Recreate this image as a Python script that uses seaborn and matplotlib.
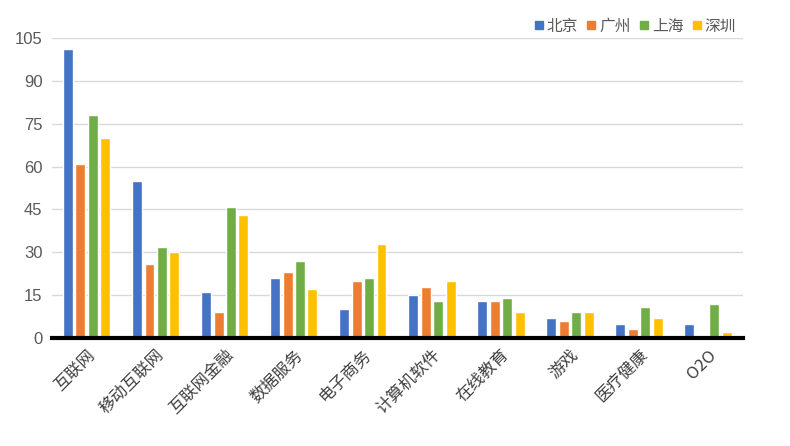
import pandas as pd
import matplotlib
matplotlib.use("Agg")
import matplotlib.pyplot as plt
from matplotlib.lines import Line2D
import seaborn as sns

categories = ["互联网", "移动互联网", "互联网金融", "数据服务", "电子商务",
              "计算机软件", "在线教育", "游戏", "医疗健康", "O2O"]
cities = ["北京", "广州", "上海", "深圳"]
beijing = [101, 55, 16, 21, 10, 15, 13, 7, 5, 5]
guangzhou = [61, 26, 9, 23, 20, 18, 13, 6, 3, 0.7]
shanghai = [78, 32, 46, 27, 21, 13, 14, 9, 11, 12]
shenzhen = [70, 30, 43, 17, 33, 20, 9, 9, 7, 2]
colors = ["#4472C4", "#ED7D31", "#70AD47", "#FFC000"]
y_ticks = [0, 15, 30, 45, 60, 75, 90, 105]

rows = []
for city, vals in zip(cities, [beijing, guangzhou, shanghai, shenzhen]):
    for cat, v in zip(categories, vals):
        rows.append({"category": cat, "city": city, "value": v})
df = pd.DataFrame(rows)

sns.set_theme(style="white")
plt.rcParams["font.family"] = ["Noto Sans CJK SC", "DejaVu Sans"]

fig = plt.figure(figsize=(7.9, 4.46), dpi=100)
ax = fig.add_axes([0.066, 0.242, 0.874, 0.673])

sns.barplot(data=df, x="category", y="value", hue="city", order=categories,
            hue_order=cities, palette=colors, width=0.72, gap=0.2,
            saturation=1, ax=ax, legend=False)

ax.set_ylim(0, 105)
ax.set_xlim(-0.5, len(categories) - 0.5)
ax.set_yticks(y_ticks)
ax.set_yticklabels([str(t) for t in y_ticks], color="#595959", fontsize=12,
                   family="Liberation Sans")
ax.yaxis.grid(True, color="#D9D9D9", linewidth=1)
ax.set_axisbelow(True)
ax.tick_params(axis="y", length=0, pad=7)
ax.tick_params(axis="x", length=0, pad=6)
for lbl in ax.get_xticklabels():
    lbl.set_rotation(45)
    lbl.set_ha("right")
    lbl.set_rotation_mode("anchor")
    lbl.set_fontsize(12)
    lbl.set_color("#404040")
ax.set_xlabel("")
ax.set_ylabel("")
for s in ["top", "right", "left"]:
    ax.spines[s].set_visible(False)
ax.spines["bottom"].set_color("black")
ax.spines["bottom"].set_linewidth(3)

handles = [Line2D([], [], marker="s", linestyle="", color=c, markersize=5.5)
           for c in colors]
ax.legend(handles, cities, loc="lower right", bbox_to_anchor=(0.995, 1.0),
          ncol=4, frameon=False, fontsize=11.3, handlelength=0.5,
          handletextpad=0.25, columnspacing=0.6,
          labelcolor="#595959", borderaxespad=0, borderpad=0.2)

fig.savefig("out.png", dpi=100)
